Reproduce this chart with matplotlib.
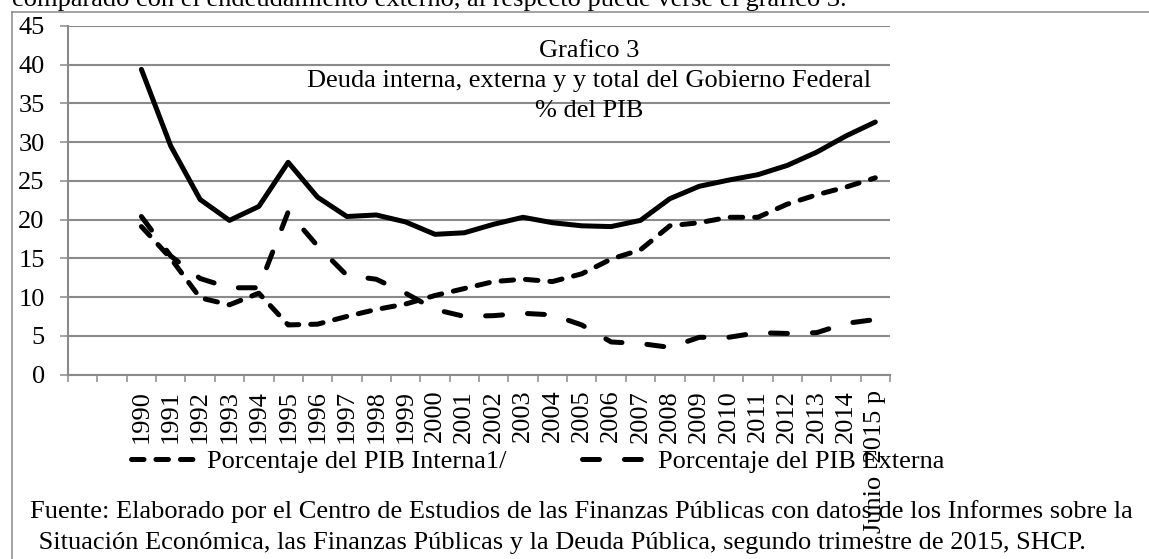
import numpy as np
import matplotlib.pyplot as plt
from matplotlib.lines import Line2D

plt.rcParams['font.family'] = ['Liberation Serif', 'DejaVu Serif']
plt.rcParams['lines.scale_dashes'] = False

W, H = 1149, 559
FS = 19

# datos (% del PIB)
years = ['1990', '1991', '1992', '1993', '1994', '1995', '1996', '1997', '1998', '1999',
         '2000', '2001', '2002', '2003', '2004', '2005', '2006', '2007', '2008', '2009',
         '2010', '2011', '2012', '2013', '2014', 'Junio  2015 p']
total = [39.4, 29.5, 22.6, 19.9, 21.7, 27.4, 22.9, 20.4, 20.6, 19.7,
         18.1, 18.3, 19.4, 20.3, 19.6, 19.2, 19.1, 19.9, 22.7, 24.3,
         25.1, 25.8, 27.0, 28.7, 30.8, 32.6]
interna = [19.1, 15.0, 9.9, 9.0, 10.5, 6.4, 6.5, 7.5, 8.4, 9.1,
           10.2, 11.1, 12.0, 12.3, 12.0, 13.0, 14.9, 16.1, 19.2, 19.6,
           20.3, 20.3, 22.0, 23.2, 24.2, 25.4]
externa = [20.4, 15.3, 12.4, 11.2, 11.2, 21.0, 16.6, 12.8, 12.3, 10.5,
           8.4, 7.5, 7.6, 7.9, 7.7, 6.4, 4.2, 4.0, 3.5, 4.8,
           4.8, 5.4, 5.3, 5.4, 6.6, 7.1]
categories = ['', ''] + years   # dos categorias vacias al inicio

pos = np.arange(len(categories))
xp = pos[2:]

fig = plt.figure(figsize=(W / 100, H / 100), dpi=100)
ax = fig.add_axes([68 / W, 1 - 374.5 / H, (890 - 68) / W, (374.5 - 26) / H])

grey = '#8a8a8a'
lw = 3.6
ax.plot(xp, total, color='black', lw=lw, solid_joinstyle='round', solid_capstyle='round')
l_int, = ax.plot(xp, interna, color='black', lw=lw, linestyle=(0, (9, 8.6)),
                 dash_capstyle='round', dash_joinstyle='round')
l_ext, = ax.plot(xp, externa, color='black', lw=lw, linestyle=(0, (12.2, 18)),
                 dash_capstyle='round', dash_joinstyle='round')

ax.set_xlim(-0.5, len(categories) - 0.5)
ax.set_ylim(0, 45)
ax.set_yticks(np.arange(0, 46, 5))
ax.yaxis.grid(True, color=grey, lw=1.5)
ax.set_axisbelow(True)
for s in ['top', 'right']:
    ax.spines[s].set_visible(False)
for s in ['left', 'bottom']:
    ax.spines[s].set_color(grey)
    ax.spines[s].set_linewidth(1.5)

ax.set_xticks(np.arange(-0.5, len(categories), 1))
ax.set_xticklabels([])
ax.set_xticks(pos, minor=True)
ax.set_xticklabels(categories, minor=True, rotation=90, fontsize=FS)
ax.tick_params(axis='x', which='major', length=5, width=1.1, color=grey, direction='out')
ax.tick_params(axis='x', which='minor', length=0, pad=11)
ax.tick_params(axis='y', length=5.8, width=1.1, color=grey, labelsize=FS, pad=11)

# titulos dentro del area de la grafica
def fx(x):
    return x / W

def fy(y):
    return 1 - y / H

fig.text(fx(589), fy(57), 'Grafico 3', ha='center', va='baseline', fontsize=FS)
fig.text(fx(589), fy(87), 'Deuda interna, externa y y total del Gobierno Federal',
         ha='center', va='baseline', fontsize=FS)
fig.text(fx(589), fy(117), '% del PIB', ha='center', va='baseline', fontsize=FS)

fig.legend(handles=[l_int, l_ext],
           labels=['Porcentaje del PIB Interna1/', 'Porcentaje del PIB Externa'],
           loc='center left', bbox_to_anchor=(fx(130.5), fy(461)), ncol=2,
           frameon=False, fontsize=FS, handlelength=2.35, handletextpad=0.55,
           columnspacing=2.85, borderpad=0, borderaxespad=0)

fig.text(fx(30), fy(518), 'Fuente: Elaborado por el Centro de Estudios de las Finanzas Públicas '
         'con datos de los Informes sobre la', ha='left', va='baseline', fontsize=FS)
fig.text(fx(32), fy(549), ' Situación Económica, las Finanzas Públicas y la Deuda Pública, '
         'segundo trimestre de 2015, SHCP.', ha='left', va='baseline', fontsize=FS)

# texto del documento cortado arriba
fig.text(fx(12), fy(6), 'comparado con el endeudamiento externo, al respecto puede verse el grafico 3.',
         ha='left', va='baseline', fontsize=FS)

# marco del grafico
fig.add_artist(Line2D([fx(11.5), 1.0], [fy(12), fy(12)], color=grey, lw=1.1))
fig.add_artist(Line2D([fx(11.5), fx(11.5)], [fy(12), 0.0], color=grey, lw=1.1))

fig.savefig('out.png', dpi=100)
